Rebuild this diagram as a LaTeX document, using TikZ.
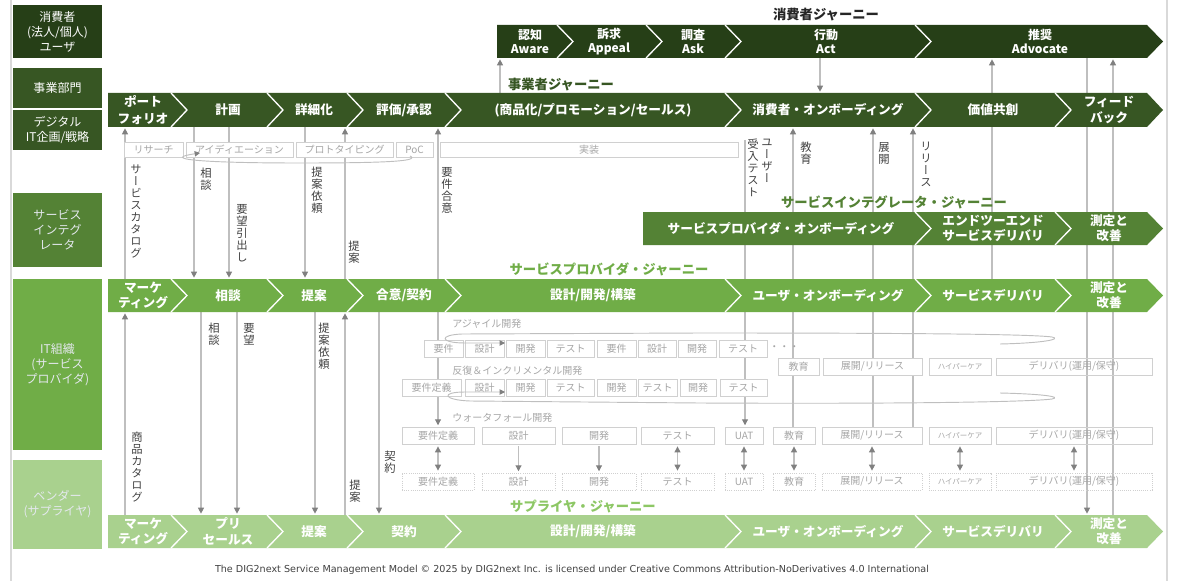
\documentclass[tikz,border=0pt]{standalone}
\usepackage{fontspec}
\usetikzlibrary{arrows.meta}
\newfontfamily\jp{Noto Sans CJK JP}
\newfontfamily\jpv{Noto Sans CJK JP}[RawFeature=+vert]
\newfontfamily\ftf{DejaVu Sans}
\definecolor{cCon}{HTML}{263F17}
\definecolor{cBiz}{HTML}{375623}
\definecolor{cSI}{HTML}{548235}
\definecolor{cSP}{HTML}{70AD47}
\definecolor{cSup}{HTML}{A9D18E}
\definecolor{cSupT}{HTML}{8DC765}
\definecolor{lnG}{HTML}{BFBFBF}
\definecolor{tipG}{HTML}{808080}
\definecolor{boxG}{HTML}{D0D0D0}
\definecolor{txG}{HTML}{A6A6A6}
\definecolor{vtxt}{HTML}{404040}
\definecolor{lgt}{HTML}{E4E8EE}
\pgfdeclarelayer{bg}
\pgfsetlayers{bg,main}
\makeatletter
\newcommand\tate[1]{\vbox{\jpv\fontsize{8.5}{9}\selectfont\tate@loop#1\relax}}
\def\tate@loop#1{\ifx#1\relax\else\hbox to 1em{\hss#1\hss}\expandafter\tate@loop\fi}
\makeatother
\newcommand\lb[6]{\node[lbox,fill=#2,text=#6,minimum width=66.75pt,minimum height={(#4-#3)*0.75pt}] (#1) at (57.5,{(#3+#4)/2}) {#5};}
\newcommand\gb[7][]{\node[gbox,#1,minimum width={(#4-#3)*0.75pt},minimum height={(#6-#5)*0.75pt}] (#2) at ({(#3+#4)/2},{(#5+#6)/2}) {#7};}
\newcommand\chevband[6]{%
  \fill[#2] (#3,#4) -- (1147,#4) -- (1163,#4+#5/2) -- (1147,#4+#5) -- (#3,#4+#5) -- cycle;
  \foreach \s in {#6}{\draw[sep] (\s,#4) -- (\s+16,#4+#5/2) -- (\s,#4+#5);}
  \coordinate (#1T) at (0,#4);
  \coordinate (#1B) at (0,#4+#5);
}
\begin{document}
\begin{tikzpicture}[x=0.75pt,y=-0.75pt,
  conn/.style={draw=lnG,line width=0.8pt},
  arr/.style={conn,shorten >=1pt,-{Triangle[length=4.5pt,width=4.5pt,color=tipG]}},
  darr/.style={conn,shorten >=1.5pt,shorten <=1.5pt,{Triangle[length=4.5pt,width=4.5pt,color=tipG]}-{Triangle[length=4.5pt,width=4.5pt,color=tipG]}},
  loopa/.style={draw=lnG,line width=0.7pt,-{Triangle[length=4pt,width=4pt,color=tipG]}},
  sep/.style={draw=white,line width=1pt},
  blab/.style={text=white,font=\jp\bfseries\fontsize{9.5}{11.5}\selectfont,align=center,inner sep=0},
  bzlab/.style={blab,font=\jp\bfseries\fontsize{9.5}{12.5}\selectfont},
  cnlab/.style={blab,font=\jp\bfseries\fontsize{9}{10.5}\selectfont},
  lbox/.style={font=\jp\fontsize{9}{11.25}\selectfont,align=center,inner sep=0},
  gbox/.style={draw=boxG,line width=0.6pt,fill=white,text=txG,font=\jp\fontsize{7.5}{8}\selectfont,inner sep=0},
  sbox/.style={densely dotted},
  tiny/.style={font=\jp\fontsize{5.6}{6}\selectfont},
  vlab/.style={anchor=north,inner sep=0,text=vtxt},
  ttl/.style={font=\jp\bfseries\fontsize{10}{12}\selectfont,inner sep=0},
  glab/.style={text=txG,font=\jp\fontsize{7.5}{8}\selectfont,anchor=west,inner sep=0}
]
\useasboundingbox (0,0) rectangle (1180,581);

% ---- lane labels
\lb{Lcon}{cCon}{5}{58}{消費者\\(法人/個人)\\ユーザ}{white}
\lb{Lbiz}{cBiz}{68}{108}{事業部門}{white}
\lb{Ldit}{cBiz}{110}{150}{デジタル\\IT企画/戦略}{white}
\lb{Lsi}{cSI}{193}{267}{サービス\\インテグ\\レータ}{lgt}
\lb{Lsp}{cSP}{279}{450}{IT組織\\(サービス\\プロバイダ)}{lgt}
\lb{Lsup}{cSup}{460}{549}{ベンダー\\(サプライヤ)}{lgt}

% ---- journey bands
\chevband{con}{cCon}{497}{25}{33}{557,646,725,915}
\chevband{biz}{cBiz}{108}{93}{34}{171,267,347,445,725,915,1055}
\chevband{si}{cSI}{643}{212}{33}{915,1055}
\chevband{sp}{cSP}{108}{279}{33}{171,267,347,445,725,915,1055}
\chevband{sup}{cSup}{108}{515}{33}{171,267,347,445,725,915,1055}

% ---- titles
\node[ttl,text=black!85] (tCon) at (826,15) {消費者ジャーニー};
\node[ttl,text=cBiz] (tBiz) at (561,85) {事業者ジャーニー};
\node[ttl,text=cSI] (tSI) at (894,202) {サービスインテグレータ・ジャーニー};
\node[ttl,text=cSP] (tSP) at (609,269) {サービスプロバイダ・ジャーニー};
\node[ttl,text=cSupT] (tSup) at (583,506) {サプライヤ・ジャーニー};

% ---- consumer labels
\node[cnlab] (c1) at (530,41.5) {認知\\Aware};
\node[cnlab] (c2) at (609,41.5) {訴求\\Appeal};
\node[cnlab] (c3) at (693,41.5) {調査\\Ask};
\node[cnlab] (c4) at (826,41.5) {行動\\Act};
\node[cnlab] (c5) at (1040,41.5) {推奨\\Advocate};

% ---- business labels
\node[bzlab] (b1) at (143,110) {ポート\\フォリオ};
\node[bzlab] (b2) at (228,110) {計画};
\node[bzlab] (b3) at (314,110) {詳細化};
\node[bzlab] (b4) at (404,110) {評価/承認};
\node[bzlab] (b5) at (593,110) {(商品化/プロモーション/セールス)};
\node[bzlab] (b6) at (828,110) {消費者・オンボーディング};
\node[bzlab] (b7) at (993,110) {価値共創};
\node[bzlab] (b8) at (1109,110) {フィード\\バック};

% ---- SI labels
\node[blab] (s1) at (781,228.5) {サービスプロバイダ・オンボーディング};
\node[blab] (s2) at (993,228.5) {エンドツーエンド\\サービスデリバリ};
\node[blab] (s3) at (1109,228.5) {測定と\\改善};

% ---- SP labels
\node[blab] (p1) at (143,295.5) {マーケ\\ティング};
\node[blab] (p2) at (228,295.5) {相談};
\node[blab] (p3) at (314,295.5) {提案};
\node[blab] (p4) at (404,295.5) {合意/契約};
\node[blab] (p5) at (593,295.5) {設計/開発/構築};
\node[blab] (p6) at (828,295.5) {ユーザ・オンボーディング};
\node[blab] (p7) at (993,295.5) {サービスデリバリ};
\node[blab] (p8) at (1109,295.5) {測定と\\改善};

% ---- supplier labels
\node[blab] (u1) at (143,531.5) {マーケ\\ティング};
\node[blab] (u2) at (228,531.5) {プリ\\セールス};
\node[blab] (u3) at (314,531.5) {提案};
\node[blab] (u4) at (404,531.5) {契約};
\node[blab] (u5) at (593,531.5) {設計/開発/構築};
\node[blab] (u6) at (828,531.5) {ユーザ・オンボーディング};
\node[blab] (u7) at (993,531.5) {サービスデリバリ};
\node[blab] (u8) at (1109,531.5) {測定と\\改善};

% ---- business sub activities
\gb{rs}{124}{183}{142}{157}{リサーチ}
\gb{ide}{186}{293}{142}{157}{アイディエーション}
\gb{pro}{296}{393}{142}{157}{プロトタイピング}
\gb{poc}{396}{433}{142}{157}{PoC}
\gb{impl}{440}{738}{142}{157}{実装}

% ---- agile
\node[glab] (lAg) at (452,324) {アジャイル開発};
\gb{a1}{424}{463}{340}{357}{要件}
\gb{a2}{465}{504}{340}{357}{設計}
\gb{a3}{506}{545}{340}{357}{開発}
\gb{a4}{547}{594}{340}{357}{テスト}
\gb{a5}{597}{636}{340}{357}{要件}
\gb{a6}{638}{676}{340}{357}{設計}
\gb{a7}{678}{716}{340}{357}{開発}
\gb{a8}{719}{767}{340}{357}{テスト}
\node[glab] (dots) at (769,348) {・・・};
\gb{ae}{778}{819}{358}{375}{教育}
\gb{ad}{823}{922}{358}{375}{展開/リリース}
\gb[tiny]{ah}{929}{991}{358}{375}{ハイパーケア}
\gb[fill=none]{am}{996}{1152}{358}{375}{デリバリ(運用/保守)}

% ---- iterative
\node[glab] (lIt) at (452,371) {反復＆インクリメンタル開発};
\gb{i1}{402}{461}{379}{396}{要件定義}
\gb{i2}{465}{504}{379}{396}{設計}
\gb{i3}{506}{545}{379}{396}{開発}
\gb{i4}{547}{594}{379}{396}{テスト}
\gb{i5}{597}{636}{379}{396}{開発}
\gb{i6}{638}{677}{379}{396}{テスト}
\gb{i7}{680}{716}{379}{396}{開発}
\gb{i8}{720}{767}{379}{396}{テスト}

% ---- waterfall
\node[glab] (lWf) at (452,418) {ウォータフォール開発};
\gb{wReq}{402}{474}{427}{444}{要件定義}
\gb{wDes}{482}{555}{427}{444}{設計}
\gb{wDev}{562}{636}{427}{444}{開発}
\gb{wTst}{641}{714}{427}{444}{テスト}
\gb{wUAT}{725}{763}{427}{444}{UAT}
\gb{wEdu}{773}{815}{427}{444}{教育}
\gb{wDep}{822}{922}{427}{444}{展開/リリース}
\gb[tiny]{wHyp}{929}{991}{427}{444}{ハイパーケア}
\gb[fill=none]{wDlv}{996}{1152}{427}{444}{デリバリ(運用/保守)}

% ---- supplier side activities
\gb[sbox]{sReq}{402}{474}{473}{490}{要件定義}
\gb[sbox]{sDes}{482}{555}{473}{490}{設計}
\gb[sbox]{sDev}{562}{636}{473}{490}{開発}
\gb[sbox]{sTst}{641}{714}{473}{490}{テスト}
\gb[sbox]{sUAT}{725}{763}{473}{490}{UAT}
\gb[sbox]{sEdu}{773}{815}{473}{490}{教育}
\gb[sbox]{sDep}{822}{922}{473}{490}{展開/リリース}
\gb[sbox,tiny]{sHyp}{929}{991}{473}{490}{ハイパーケア}
\gb[sbox,fill=none]{sDlv}{996}{1152}{473}{490}{デリバリ(運用/保守)}

% ---- loops
\draw[loopa] (410,156) .. controls (420,161) and (390,163) .. (300,163) .. controls (200,163) and (160,159) .. (200,153);
\draw[loopa] (1000,344) .. controls (1045,343) and (1062,339) .. (1052,337) .. controls (1030,334) and (900,333) .. (700,333) -- (462,334) .. controls (438,335) and (440,343) .. (465,343) -- (505,343);
\draw[loopa] (1000,393) .. controls (1045,394) and (1062,397) .. (1052,399) .. controls (1030,402) and (900,404) .. (700,403) -- (470,401) .. controls (443,400) and (440,392) .. (465,392) -- (505,392);

% ---- vertical labels
\node[vlab] (vSC) at (136,165) {\tate{サービスカタログ}};
\node[vlab] (vSD1) at (206,168) {\tate{相談}};
\node[vlab] (vYB) at (242,204) {\tate{要望引出し}};
\node[vlab] (vTI1) at (317,167) {\tate{提案依頼}};
\node[vlab] (vTA1) at (354,241) {\tate{提案}};
\node[vlab] (vYG) at (447,167) {\tate{要件合意}};
\node[vlab] (vUT1) at (767,139) {\tate{ユーザー}};
\node[vlab] (vUT2) at (753,139) {\tate{受入テスト}};
\node[vlab] (vKY) at (806,142) {\tate{教育}};
\node[vlab] (vTK) at (884,142) {\tate{展開}};
\node[vlab] (vRL) at (926,142) {\tate{リリース}};
\node[vlab] (vSD2) at (214,323) {\tate{相談}};
\node[vlab] (vYB2) at (249,323) {\tate{要望}};
\node[vlab] (vTI2) at (324,323) {\tate{提案依頼}};
\node[vlab] (vSK) at (137,432) {\tate{商品カタログ}};
\node[vlab] (vKY2) at (390,451) {\tate{契約}};
\node[vlab] (vTA2) at (355,480) {\tate{提案}};

% ---- footer
\node[font=\ftf\fontsize{7.2}{8}\selectfont,text=black!75,inner sep=0] (foot) at (572,570) {The DIG2next Service Management Model © 2025 by DIG2next Inc. is licensed under Creative Commons Attribution-NoDerivatives 4.0 International};

% ---- connectors (behind)
\begin{pgfonlayer}{bg}
\draw[draw=black!15,line width=1.2pt] (11,0) -- (11,581);
\draw[draw=black!15,line width=1.2pt] (1167,0) -- (1167,581);
\coordinate (uatTop) at (745,140);
% consumer <-> business
\draw[arr] (500,0 |- bizT) -- (500,0 |- conB);
\draw[arr] (820,0 |- conB) -- (820,0 |- bizT);
\draw[arr] (992,0 |- spT) -- (992,0 |- conB);
\draw[arr] (1087,0 |- conB) -- (1087,0 |- supT);
\draw[arr] (1113,0 |- supT) -- (1113,0 |- conB);
% business <-> service provider
\draw[arr] (125,0 |- spT) -- (125,0 |- bizB);
\draw[arr] (194,0 |- bizB) -- (194,0 |- spT);
\draw[arr] (229,0 |- bizB) -- (229,0 |- spT);
\draw[arr] (305,0 |- bizB) -- (305,0 |- spT);
\draw[arr] (345,0 |- spT) -- (345,0 |- bizB);
\draw[arr] (438,0 |- spT) -- (438,0 |- bizB);
\draw[arr] (uatTop) -- (uatTop |- wUAT.north);
\draw[arr] (793,0 |- wEdu.north) -- (793,0 |- bizB);
\draw[arr] (873,0 |- wDep.north) -- (873,0 |- bizB);
\draw[arr] (913,0 |- wDep.north) -- (913,0 |- bizB);
% service provider <-> supplier
\draw[arr] (125,0 |- supT) -- (125,0 |- spB);
\draw[arr] (201,0 |- spB) -- (201,0 |- supT);
\draw[arr] (237,0 |- spB) -- (237,0 |- supT);
\draw[arr] (315,0 |- spB) -- (315,0 |- supT);
\draw[arr] (345,0 |- supT) -- (345,0 |- spB);
\draw[arr] (379,0 |- spB) -- (379,0 |- supT);
\draw[arr] (438,0 |- spB) -- (438,0 |- wReq.north);
% waterfall <-> supplier
\draw[darr] (wReq.south) -- (sReq.north);
\draw[arr,shorten <=1.5pt] (wDes.south) -- (sDes.north);
\draw[arr,shorten <=1.5pt] (wDev.south) -- (sDev.north);
\draw[darr] (wTst.south) -- (sTst.north);
\draw[darr] (wUAT.south) -- (sUAT.north);
\draw[darr] (wEdu.south) -- (sEdu.north);
\draw[darr] (wDep.south) -- (sDep.north);
\draw[darr] (wHyp.south) -- (sHyp.north);
\draw[darr] (wDlv.south) -- (sDlv.north);
\end{pgfonlayer}
\end{tikzpicture}
\end{document}
